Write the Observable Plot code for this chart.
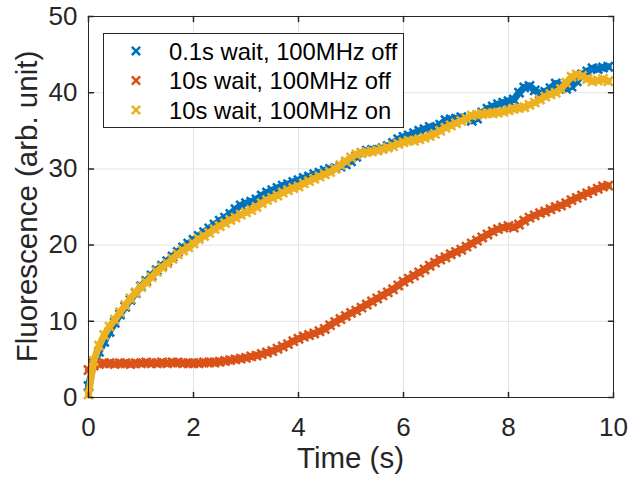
<!DOCTYPE html>
<html><head><meta charset="utf-8">
<script src="https://cdn.jsdelivr.net/npm/d3@7"></script>
<script src="https://cdn.jsdelivr.net/npm/@observablehq/plot@0.6"></script>
<style>body{margin:0;background:#fff;} #chart{position:relative;width:629px;height:479px;}</style>
</head><body><div id="chart"></div>
<script>
const time = [0,0.1,0.2,0.3,0.4,0.5,0.6,0.7,0.8,0.9,
  1,1.1,1.2,1.3,1.4,1.5,1.6,1.7,1.8,1.9,
  2,2.1,2.2,2.3,2.4,2.5,2.6,2.7,2.8,2.9,
  3,3.1,3.2,3.3,3.4,3.5,3.6,3.7,3.8,3.9,
  4,4.1,4.2,4.3,4.4,4.5,4.6,4.7,4.8,4.9,
  5,5.1,5.2,5.3,5.4,5.5,5.6,5.7,5.8,5.9,
  6,6.1,6.2,6.3,6.4,6.5,6.6,6.7,6.8,6.9,
  7,7.1,7.2,7.3,7.4,7.5,7.6,7.7,7.8,7.9,
  8,8.1,8.2,8.3,8.4,8.5,8.6,8.7,8.8,8.9,
  9,9.1,9.2,9.3,9.4,9.5,9.6,9.7,9.8,9.9];
const blueVals = [1.5,4.5,6.0,7.3,8.6,9.8,10.9,11.9,12.8,13.7,
  14.6,15.3,16.0,16.7,17.3,17.9,18.5,19.1,19.7,20.2,
  20.7,21.2,21.7,22.2,22.7,23.2,23.6,24.1,24.7,25.2,
  25.5,25.7,26.0,26.5,26.9,27.2,27.5,27.8,28.0,28.3,
  28.5,28.8,29.0,29.3,29.5,29.8,30.0,30.1,30.3,30.6,
  31.0,31.6,32.1,32.4,32.5,32.5,32.7,33.0,33.4,33.9,
  34.2,34.4,34.7,35.0,35.2,35.5,35.4,35.8,36.4,36.5,
  36.6,36.8,36.6,36.3,36.6,37.4,37.9,38.2,38.5,38.7,
  38.9,39.1,40.0,40.7,40.9,40.3,39.9,40.1,40.6,41.2,
  41.0,40.5,40.8,41.5,42.4,42.8,43.2,43.1,43.3,43.4];
const orangeVals = [3.6,4.2,4.4,4.5,4.5,4.4,4.5,4.5,4.4,4.5,
  4.5,4.6,4.5,4.5,4.6,4.5,4.6,4.6,4.5,4.5,
  4.5,4.5,4.6,4.6,4.6,4.7,4.8,4.9,5.0,5.1,
  5.2,5.4,5.5,5.7,5.9,6.1,6.4,6.7,7.0,7.4,
  7.7,8.0,8.2,8.4,8.7,9.0,9.5,9.9,10.3,10.7,
  11.1,11.4,11.8,12.2,12.6,13.0,13.4,13.8,14.2,14.7,
  15.2,15.6,16.0,16.4,16.8,17.3,17.7,18.1,18.4,18.8,
  19.1,19.4,19.8,20.2,20.6,21.0,21.4,21.8,22.1,22.3,
  22.5,22.3,22.7,23.2,23.6,23.9,24.2,24.4,24.7,25.0,
  25.2,25.5,25.9,26.2,26.5,26.8,27.1,27.4,27.7,27.8];
const yellowVals = [0.4,4.8,6.8,8.2,9.3,10.2,11.2,12.1,13.0,13.8,
  14.5,15.1,15.8,16.5,17.1,17.6,18.2,18.8,19.3,19.7,
  20.2,20.8,21.2,21.6,22.1,22.5,22.9,23.3,23.6,24.0,
  24.3,24.6,25.0,25.5,25.9,26.2,26.5,26.9,27.2,27.5,
  27.7,28.1,28.4,28.7,29.0,29.3,29.6,30.0,30.5,31.0,
  31.5,31.9,32.1,32.2,32.3,32.4,32.6,32.8,33.0,33.3,
  33.5,33.7,33.7,33.9,34.1,34.3,34.6,35.0,35.4,35.7,
  36.0,36.3,36.6,37.0,37.1,37.2,37.3,37.3,37.4,37.5,
  37.7,37.9,38.0,38.1,38.4,38.7,39.1,39.5,39.8,40.0,
  40.5,41.3,42.1,42.4,42.2,41.8,41.5,41.6,41.8,41.5];
const seriesNames = ["0.1s wait, 100MHz off", "10s wait, 100MHz off", "10s wait, 100MHz on"];
const seriesColors = ["#0072BD", "#D95319", "#EDB120"];
const xTicks = [0, 2, 4, 6, 8, 10];
const yTicks = [0, 10, 20, 30, 40, 50];
const xLabel = "Time (s)";
const yLabel = "Fluorescence (arb. unit)";

const seriesRows = [blueVals, orangeVals, yellowVals].map((vals, k) =>
  vals.map((v, i) => ({t: time[i], v, s: seriesNames[k]})));

const font = "'Liberation Sans', Arial, Helvetica, sans-serif";
const ink = "#262626";
const tickShape = {draw(context, l) { context.moveTo(0, 0); context.lineTo(0, -l); }};

const seriesMarks = seriesRows.flatMap((rows, k) => [
  Plot.line(rows, {x: "t", y: "v", stroke: seriesColors[k], strokeWidth: 7, curve: "linear"}),
  Plot.dot(rows, {x: "t", y: "v", stroke: seriesColors[k], symbol: "times", r: 4.2, strokeWidth: 2.6})
]);

const plot = Plot.plot({
  width: 629, height: 479,
  marginLeft: 88, marginRight: 16, marginTop: 16, marginBottom: 82,
  style: {fontFamily: font, background: "white", color: ink, overflow: "visible"},
  x: {domain: [0, 10]},
  y: {domain: [0, 50]},
  marks: [
    Plot.gridX(xTicks, {stroke: "#e4e4e4", strokeOpacity: 1}),
    Plot.gridY(yTicks, {stroke: "#e4e4e4", strokeOpacity: 1}),
    ...seriesMarks,
    Plot.frame({stroke: ink, strokeWidth: 1}),
    Plot.vector(xTicks, {x: d => d, frameAnchor: "bottom", length: 5, anchor: "start", rotate: 0, shape: tickShape, stroke: ink}),
    Plot.vector(xTicks, {x: d => d, frameAnchor: "top", length: 5, anchor: "start", rotate: 180, shape: tickShape, stroke: ink}),
    Plot.vector(yTicks, {y: d => d, frameAnchor: "left", length: 5, anchor: "start", rotate: 90, shape: tickShape, stroke: ink}),
    Plot.vector(yTicks, {y: d => d, frameAnchor: "right", length: 5, anchor: "start", rotate: -90, shape: tickShape, stroke: ink}),
    Plot.axisX(xTicks, {anchor: "bottom", tickSize: 0, tickPadding: 20, fontSize: 26, label: null, fill: ink}),
    Plot.axisY(yTicks, {anchor: "left", tickSize: 0, tickPadding: 11, fontSize: 26, label: null, fill: ink})
  ]
});

const svg = d3.select(plot);
// axis titles
svg.append("text").attr("x", 350.5).attr("y", 468).attr("text-anchor", "middle")
  .attr("font-size", 29.5).attr("font-family", font).attr("fill", ink).text(xLabel);
svg.append("text").attr("transform", "translate(37,206.5) rotate(-90)").attr("text-anchor", "middle")
  .attr("font-size", 29.5).attr("font-family", font).attr("fill", ink).text(yLabel);
// legend
const lg = svg.append("g");
lg.append("rect").attr("x", 103.5).attr("y", 33.5).attr("width", 300).attr("height", 94)
  .attr("fill", "white").attr("stroke", ink).attr("stroke-width", 1);
seriesNames.forEach((name, i) => {
  const cy = 51 + i * 29.5;
  lg.append("path").attr("d", d3.symbol(d3.symbolTimes, 46)())
    .attr("transform", `translate(136,${cy})`)
    .attr("fill", "none").attr("stroke", seriesColors[i]).attr("stroke-width", 2.6);
  lg.append("text").attr("x", 169).attr("y", cy).attr("dy", "0.36em").attr("text-anchor", "start")
    .attr("font-size", 23.8).attr("fill", "#000").attr("font-family", font).text(name);
});
document.getElementById("chart").appendChild(plot);
</script>
</body></html>
